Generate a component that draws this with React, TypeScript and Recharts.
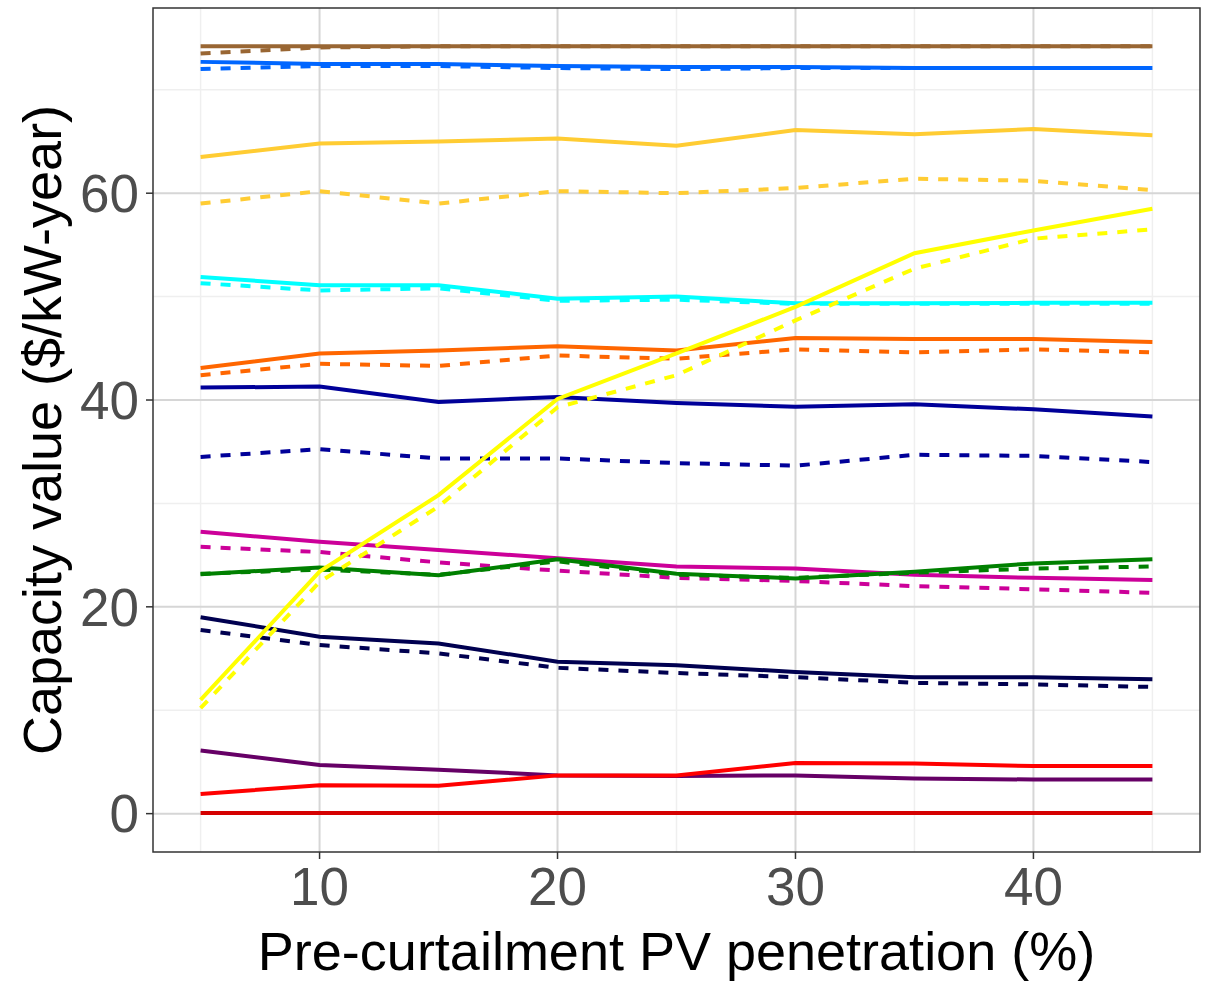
import React from 'react';
import { LineChart, Line, XAxis, YAxis, CartesianGrid, ReferenceArea } from 'recharts';

const penetration = [5, 10, 15, 20, 25, 30, 35, 40, 45];

const brownSolid = [74.2, 74.2, 74.2, 74.2, 74.2, 74.2, 74.2, 74.2, 74.2];
const brownDashed = [73.5, 74.1, 74.2, 74.2, 74.2, 74.2, 74.2, 74.2, 74.2];
const blueSolid = [72.7, 72.5, 72.5, 72.3, 72.2, 72.2, 72.1, 72.1, 72.1];
const blueDashed = [72.0, 72.3, 72.3, 72.1, 72.0, 72.1, 72.1, 72.1, 72.1];
const goldSolid = [63.5, 64.8, 65.0, 65.3, 64.6, 66.1, 65.7, 66.2, 65.6];
const goldDashed = [59.0, 60.2, 59.0, 60.2, 60.0, 60.5, 61.4, 61.2, 60.3];
const yellowSolid = [11.0, 23.4, 30.8, 40.1, 44.5, 49.0, 54.2, 56.4, 58.5];
const yellowDashed = [10.2, 22.4, 29.7, 39.3, 42.4, 47.7, 52.7, 55.6, 56.5];
const cyanSolid = [51.9, 51.1, 51.1, 49.8, 50.0, 49.35, 49.35, 49.4, 49.4];
const cyanDashed = [51.3, 50.6, 50.8, 49.6, 49.7, 49.3, 49.3, 49.3, 49.3];
const orangeSolid = [43.1, 44.5, 44.8, 45.2, 44.8, 46.0, 45.9, 45.9, 45.6];
const orangeDashed = [42.4, 43.5, 43.3, 44.3, 44.0, 44.9, 44.6, 44.9, 44.6];
const navySolid = [41.2, 41.3, 39.8, 40.3, 39.7, 39.35, 39.6, 39.1, 38.4];
const navyDashed = [34.5, 35.25, 34.35, 34.35, 33.9, 33.65, 34.7, 34.6, 34.0];
const magentaSolid = [27.25, 26.3, 25.5, 24.7, 23.9, 23.7, 23.1, 22.8, 22.6];
const magentaDashed = [25.8, 25.3, 24.3, 23.5, 22.8, 22.5, 22.0, 21.7, 21.35];
const greenSolid = [23.15, 23.8, 23.05, 24.6, 23.2, 22.75, 23.4, 24.2, 24.6];
const greenDashed = [23.2, 23.6, 23.1, 24.4, 23.1, 22.8, 23.3, 23.7, 23.9];
const darkNavySolid = [19.0, 17.1, 16.45, 14.7, 14.35, 13.7, 13.2, 13.2, 13.0];
const darkNavyDashed = [17.75, 16.3, 15.5, 14.1, 13.6, 13.2, 12.65, 12.5, 12.25];
const purpleSolid = [6.1, 4.7, 4.25, 3.7, 3.65, 3.7, 3.4, 3.3, 3.3];
const redSolid = [1.9, 2.75, 2.7, 3.7, 3.7, 4.9, 4.85, 4.6, 4.6];
const darkRedSolid = [0.05, 0.05, 0.05, 0.05, 0.05, 0.05, 0.05, 0.05, 0.05];

const xTicks = [10, 20, 30, 40];
const xMinor = [5, 15, 25, 35, 45];
const yTicks = [0, 20, 40, 60];
const yMinor = [10, 30, 50, 70];
const xDomain: [number, number] = [3, 47];
const yDomain: [number, number] = [-3.71, 77.91];

const seriesDefs = [
  { key: 'brownSolid', values: brownSolid, color: '#996633', dashed: false },
  { key: 'brownDashed', values: brownDashed, color: '#996633', dashed: true },
  { key: 'blueSolid', values: blueSolid, color: '#0066FF', dashed: false },
  { key: 'blueDashed', values: blueDashed, color: '#0066FF', dashed: true },
  { key: 'goldSolid', values: goldSolid, color: '#FFCC33', dashed: false },
  { key: 'goldDashed', values: goldDashed, color: '#FFCC33', dashed: true },
  { key: 'cyanSolid', values: cyanSolid, color: '#00FFFF', dashed: false },
  { key: 'cyanDashed', values: cyanDashed, color: '#00FFFF', dashed: true },
  { key: 'orangeSolid', values: orangeSolid, color: '#FF6600', dashed: false },
  { key: 'orangeDashed', values: orangeDashed, color: '#FF6600', dashed: true },
  { key: 'navySolid', values: navySolid, color: '#000099', dashed: false },
  { key: 'navyDashed', values: navyDashed, color: '#000099', dashed: true },
  { key: 'magentaSolid', values: magentaSolid, color: '#CC0099', dashed: false },
  { key: 'magentaDashed', values: magentaDashed, color: '#CC0099', dashed: true },
  { key: 'greenSolid', values: greenSolid, color: '#008000', dashed: false },
  { key: 'greenDashed', values: greenDashed, color: '#008000', dashed: true },
  { key: 'darkNavySolid', values: darkNavySolid, color: '#000050', dashed: false },
  { key: 'darkNavyDashed', values: darkNavyDashed, color: '#000050', dashed: true },
  { key: 'purpleSolid', values: purpleSolid, color: '#660066', dashed: false },
  { key: 'redSolid', values: redSolid, color: '#FF0000', dashed: false },
  { key: 'darkRedSolid', values: darkRedSolid, color: '#D50000', dashed: false },
  { key: 'yellowSolid', values: yellowSolid, color: '#FFFF00', dashed: false },
  { key: 'yellowDashed', values: yellowDashed, color: '#FFFF00', dashed: true },
];

const data = penetration.map((x, i) => {
  const row: Record<string, number> = { x };
  seriesDefs.forEach((s) => {
    row[s.key] = s.values[i];
  });
  return row;
});

const FONT = '"Liberation Sans", Arial, sans-serif';

const XTitle = (props: any) => {
  const vb = props.viewBox || {};
  return (
    <text
      x={vb.x + vb.width / 2}
      y={vb.y + 118}
      textAnchor="middle"
      fontSize={54}
      fontFamily={FONT}
      fill="#000000"
    >
      Pre-curtailment PV penetration (%)
    </text>
  );
};

const YTitle = (props: any) => {
  const vb = props.viewBox || {};
  const cx = 61;
  const cy = vb.y + vb.height / 2;
  return (
    <text
      x={cx}
      y={cy}
      transform={`rotate(-90, ${cx}, ${cy})`}
      textAnchor="middle"
      fontSize={54}
      fontFamily={FONT}
      fill="#000000"
    >
      Capacity value ($/kW-year)
    </text>
  );
};

export default function App() {
  return (
    <div
      style={{
        position: 'absolute',
        left: 0,
        top: 0,
        width: 1209,
        height: 982,
        background: '#fff',
        fontFamily: FONT,
      }}
    >
      <LineChart
        width={1209}
        height={982}
        data={data}
        margin={{ top: 8, right: 9, left: 0, bottom: 0 }}
        style={{ fontFamily: FONT }}
      >
        <CartesianGrid
          stroke="#EFEFEF"
          strokeWidth={1.5}
          horizontalValues={yMinor}
          verticalValues={xMinor}
        />
        <CartesianGrid
          stroke="#D6D6D6"
          strokeWidth={2}
          horizontalValues={yTicks}
          verticalValues={xTicks}
        />
        <XAxis
          dataKey="x"
          type="number"
          domain={xDomain}
          ticks={xTicks}
          allowDataOverflow
          height={130}
          axisLine={false}
          tickSize={7}
          tickMargin={8}
          tickLine={{ stroke: '#333333', strokeWidth: 1.5 }}
          tick={{ fontSize: 53, fill: '#4D4D4D', fontFamily: FONT }}
          label={<XTitle />}
        />
        <YAxis
          type="number"
          domain={yDomain}
          ticks={yTicks}
          allowDataOverflow
          width={153}
          axisLine={false}
          tickSize={7}
          tickMargin={7}
          tickLine={{ stroke: '#333333', strokeWidth: 1.5 }}
          tick={{ fontSize: 53, fill: '#4D4D4D', fontFamily: FONT }}
          label={<YTitle />}
        />
        {seriesDefs.map((s) => (
          <Line
            key={s.key}
            dataKey={s.key}
            type="linear"
            stroke={s.color}
            strokeWidth={4}
            strokeDasharray={s.dashed ? '10 10' : undefined}
            dot={false}
            activeDot={false}
            isAnimationActive={false}
          />
        ))}
        <ReferenceArea
          x1={xDomain[0]}
          x2={xDomain[1]}
          y1={yDomain[0]}
          y2={yDomain[1]}
          fill="none"
          fillOpacity={0}
          stroke="#333333"
          strokeWidth={1.5}
          ifOverflow="visible"
        />
      </LineChart>
    </div>
  );
}
